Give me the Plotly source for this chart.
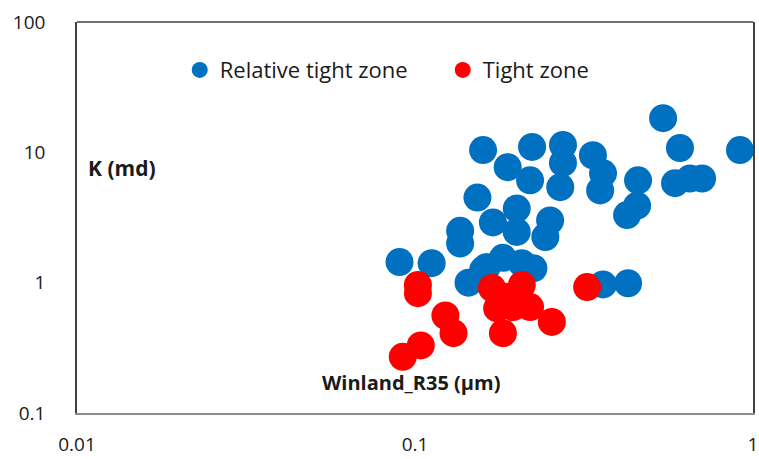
import plotly.graph_objects as go

# Winland R35 pore-throat radius (µm) vs permeability K (md)
relative_tight_r35 = [0.542, 0.608, 0.915, 0.159, 0.222, 0.274, 0.274, 0.336, 0.360, 0.353,
                      0.457, 0.588, 0.651, 0.707, 0.454, 0.424, 0.188, 0.219, 0.269, 0.153,
                      0.200, 0.200, 0.170, 0.136, 0.136, 0.251, 0.243, 0.090, 0.112, 0.144,
                      0.163, 0.182, 0.207, 0.224, 0.159, 0.360, 0.427]
relative_tight_k = [18.3, 10.8, 10.4, 10.4, 11.0, 11.4, 8.3, 9.5, 6.9, 5.1,
                    6.1, 5.8, 6.3, 6.3, 3.9, 3.3, 7.7, 6.1, 5.4, 4.5,
                    3.7, 2.45, 2.9, 2.5, 2.0, 3.0, 2.24, 1.44, 1.41, 1.0,
                    1.32, 1.55, 1.41, 1.29, 1.25, 0.97, 0.99]

tight_r35 = [0.102, 0.102, 0.123, 0.130, 0.104, 0.092, 0.169, 0.207, 0.175, 0.195,
             0.219, 0.254, 0.182, 0.323, 0.185]
tight_k = [0.96, 0.83, 0.56, 0.41, 0.33, 0.27, 0.91, 0.96, 0.635, 0.65,
           0.65, 0.50, 0.41, 0.925, 0.78]

x_ticks = [0.01, 0.1, 1]
x_tick_labels = ["0.01", "0.1", "1"]
y_ticks = [0.1, 1, 10, 100]
y_tick_labels = ["0.1", "1", "10", "100"]

font_family = "Open Sans, Noto Sans, sans-serif"
text_color = "#1a1a1a"

fig = go.Figure()
fig.add_trace(go.Scatter(
    x=relative_tight_r35, y=relative_tight_k, mode="markers",
    name="Relative tight zone",
    marker=dict(size=28, color="#0070C0"),
))
fig.add_trace(go.Scatter(
    x=tight_r35, y=tight_k, mode="markers",
    name="Tight zone",
    marker=dict(size=28, color="#FF0000"),
))

fig.update_layout(
    width=759, height=459,
    margin=dict(l=77, r=6, t=22, b=46),
    paper_bgcolor="white", plot_bgcolor="white",
    font=dict(family=font_family, size=16, color=text_color),
    showlegend=True,
    legend=dict(
        orientation="h", x=0.152, y=0.877, xanchor="left", yanchor="middle",
        bgcolor="rgba(0,0,0,0)", font=dict(size=22, color=text_color),
        itemsizing="trace", entrywidth=218, entrywidthmode="pixels",
    ),
    xaxis=dict(
        type="log", range=[-2, 0], tickvals=x_ticks, ticktext=x_tick_labels,
        showgrid=False, zeroline=False, ticks="", automargin=False,
        showline=True, linecolor="#8c8c8c", linewidth=2,
        ticklabelstandoff=13, tickfont=dict(size=19, color=text_color),
    ),
    yaxis=dict(
        type="log", range=[-1, 2], tickvals=y_ticks, ticktext=y_tick_labels,
        showgrid=False, zeroline=False, ticks="", automargin=False,
        showline=True, linecolor="#404040", linewidth=1.5, mirror=True,
        ticklabelstandoff=26, tickfont=dict(size=19, color=text_color),
    ),
    shapes=[dict(type="line", xref="paper", yref="paper", x0=0, x1=1, y0=1, y1=1,
                 line=dict(color="#404040", width=1.5))],
    annotations=[
        dict(text="<b>K (md)</b>", xref="paper", yref="paper", x=0.013, y=0.627,
             xanchor="left", yanchor="middle", showarrow=False,
             font=dict(size=21, color=text_color)),
        dict(text="<b>Winland_R35 (μm)</b>", xref="paper", yref="paper", x=0.359, y=0.077,
             xanchor="left", yanchor="middle", showarrow=False,
             font=dict(size=20, color=text_color)),
    ],
)

fig.write_html("out.html")
